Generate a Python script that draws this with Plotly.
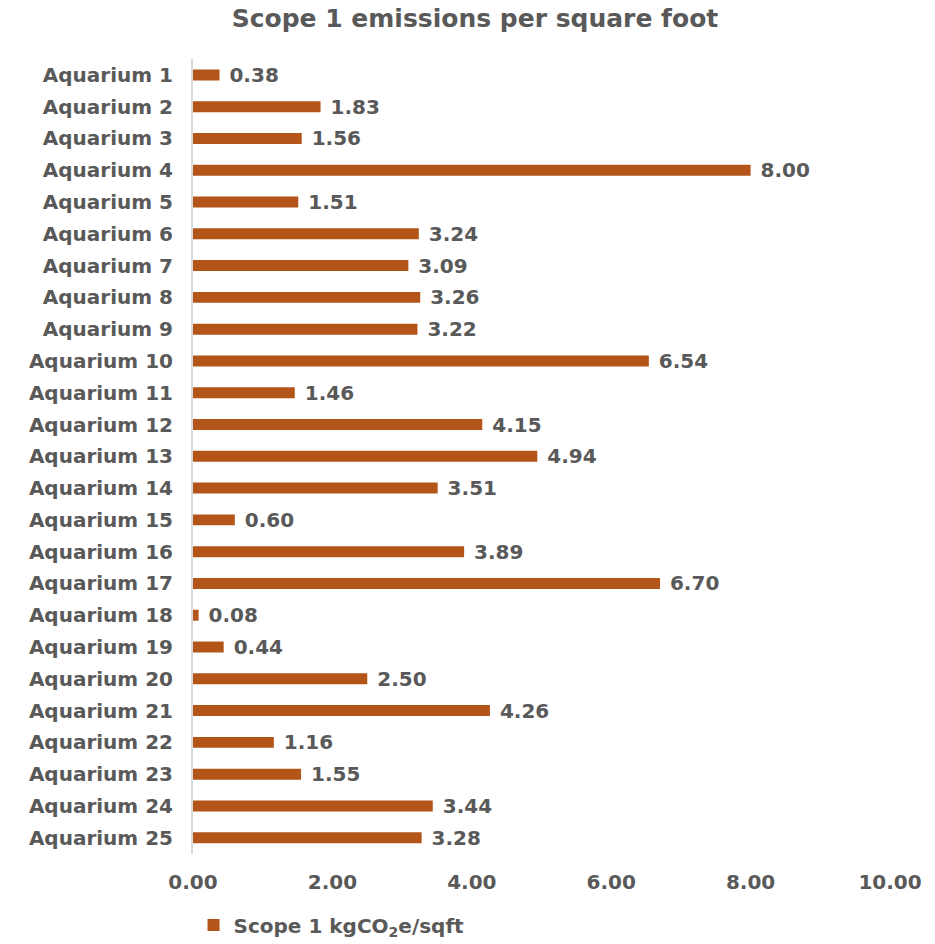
import plotly.graph_objects as go

# Scope 1 emissions per square foot, by aquarium
aquariums = [f"Aquarium {i}" for i in range(1, 26)]
scope1_per_sqft = [0.38, 1.83, 1.56, 8.00, 1.51, 3.24, 3.09, 3.26, 3.22, 6.54,
                   1.46, 4.15, 4.94, 3.51, 0.60, 3.89, 6.70, 0.08, 0.44, 2.50,
                   4.26, 1.16, 1.55, 3.44, 3.28]
x_ticks = [0, 2, 4, 6, 8, 10]

BAR_COLOR = "#B35418"
TEXT_COLOR = "#595959"
FONT = "DejaVu Sans"
LABEL_FONT = dict(family=FONT, size=20, color=TEXT_COLOR, weight="bold")

fig = go.Figure(
    go.Bar(
        y=aquariums,
        x=scope1_per_sqft,
        orientation="h",
        marker=dict(color=BAR_COLOR, line=dict(width=0)),
        name="Scope 1 kgCO<sub>2</sub>e/sqft",
        text=[f"{v:.2f}" for v in scope1_per_sqft],
        texttemplate="\u00a0%{text}",
        textposition="outside",
        constraintext="none",
        cliponaxis=False,
        textfont=LABEL_FONT,
        showlegend=True,
    )
)

fig.update_layout(
    width=935,
    height=944,
    margin=dict(l=193, r=45, t=59, b=88),
    paper_bgcolor="white",
    plot_bgcolor="white",
    bargap=0.655,
    font=LABEL_FONT,
    title=dict(
        text="Scope 1 emissions per square foot",
        x=0.508,
        xanchor="center",
        y=0.99,
        yanchor="top",
        font=dict(family=FONT, size=25, color=TEXT_COLOR, weight="bold"),
    ),
    xaxis=dict(
        range=[0, 10],
        tickvals=x_ticks,
        ticktext=[f"{v:.2f}" for v in x_ticks],
        showgrid=False,
        zeroline=False,
        showline=False,
        ticks="",
        ticklabelstandoff=14,
        tickfont=LABEL_FONT,
    ),
    yaxis=dict(
        autorange="reversed",
        showgrid=False,
        showline=True,
        linecolor="#D9D9D9",
        linewidth=2,
        ticks="",
        ticklabelstandoff=14,
        tickfont=LABEL_FONT,
    ),
    legend=dict(
        orientation="h",
        xref="container",
        yref="container",
        x=0.207,
        xanchor="left",
        y=0.02,
        yanchor="middle",
        font=LABEL_FONT,
        itemwidth=30,
    ),
)

fig.write_html("out.html")
